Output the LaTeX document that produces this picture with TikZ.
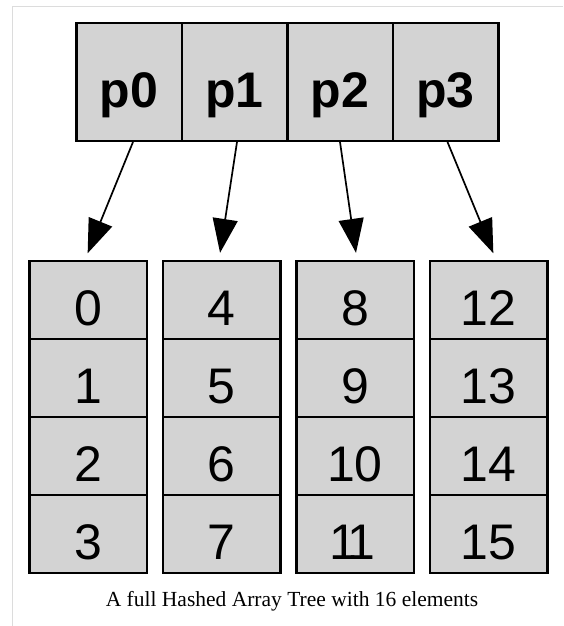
\documentclass[tikz,border=0pt]{standalone}
\usepackage{fontspec}
\setmainfont{Liberation Serif}
\setsansfont{Liberation Sans}
\usetikzlibrary{arrows.meta}
\definecolor{cellgray}{HTML}{D3D3D3}
\definecolor{framegray}{HTML}{DCDCDC}

\begin{document}
\begin{tikzpicture}[x=1pt,y=-1pt,
        cell/.style={draw, fill=cellgray, line width=2.5pt, inner sep=0pt,
            text height=50pt, text depth=0pt, font=\fontsize{50}{60}\selectfont\sffamily},
        ptr/.style={cell, minimum width=105.5pt, minimum height=117.5pt,
            font=\fontsize{50}{60}\selectfont\sffamily\bfseries},
        slot/.style={cell, minimum width=117.5pt, minimum height=78pt},
        arr/.style={-{Triangle[length=34pt,width=25pt]}, line width=1.7pt, shorten >=7pt}]
    \useasboundingbox (0,0) rectangle (563,626);
    \draw[framegray, line width=1.5pt] (563,6.5) -- (12.5,6.5) -- (12.5,626);
    \foreach \i in {0,...,3}
        \node[ptr] (p\i) at (129+105.5*\i, 82) {p\i};
    \foreach \i in {0,...,3}{
        \foreach \j in {0,...,3}{
            \pgfmathtruncatemacro\n{4*\i+\j}
            \node[slot] (b\i-\j) at (88+133.5*\i, 300+78*\j)
                {\ifnum\n=11 \rlap{1\kern-9pt1}\phantom{11}\else\n\fi};
        }
    }
    \foreach \i/\sx/\dx in {0/4/-3, 1/2.5/-2.5, 2/0/2, 3/2/7.5}
        \draw[arr] ([xshift=\sx pt]p\i.south) -- ([xshift=\dx pt]b\i-0.north);
    \node[font=\fontsize{21.5}{25}\selectfont, anchor=base] (cap) at (292,606)
        {A full Hashed Array Tree with 16 elements};
\end{tikzpicture}
\end{document}
